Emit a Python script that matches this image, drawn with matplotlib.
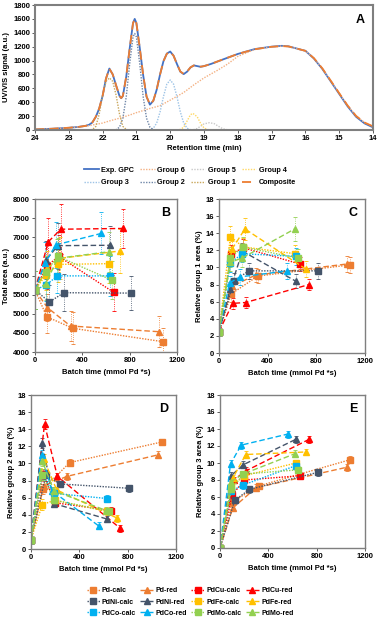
import matplotlib
matplotlib.use("Agg")
import matplotlib.pyplot as plt

plt.rcParams["font.family"] = ["Liberation Sans", "DejaVu Sans"]
plt.rcParams["font.weight"] = "bold"
plt.rcParams["axes.labelweight"] = "bold"

# ---------------- panel A: GPC trace and deconvolved groups ----------------
gpc_t = [24.0, 23.5, 23.0, 22.7, 22.5, 22.4, 22.3, 22.2, 22.1, 22.0, 21.9, 21.8,
         21.7, 21.6, 21.5, 21.45, 21.4, 21.3, 21.2, 21.1, 21.05, 21.0, 20.9, 20.8,
         20.7, 20.6, 20.5, 20.4, 20.3, 20.2, 20.1, 20.0, 19.9, 19.8, 19.7, 19.6,
         19.5, 19.4, 19.3, 19.2, 19.1, 19.0, 18.8, 18.5, 18.0, 17.5, 17.0, 16.7,
         16.5, 16.0, 15.75, 15.5, 15.25, 15.0, 14.75, 14.5, 14.25, 14.0]
gpc_exp = [8, 18, 32, 45, 60, 75, 110, 190, 310, 490, 740, 885,
           800, 640, 490, 458, 490, 770, 1170, 1540, 1600, 1540, 1180, 790,
           480, 365, 420, 580, 800, 990, 1100, 1130, 1070, 950, 840, 805,
           840, 900, 930, 920, 910, 920, 950, 1005, 1095, 1165, 1200, 1212,
           1205, 1140, 1030, 880, 700, 520, 340, 190, 95, 38]
gpc_comp = [8, 18, 32, 45, 60, 75, 112, 192, 312, 492, 742, 883,
            800, 642, 492, 460, 492, 772, 1170, 1538, 1598, 1538, 1180, 792,
            482, 368, 422, 582, 800, 990, 1098, 1128, 1068, 950, 842, 808,
            842, 902, 930, 920, 912, 920, 950, 1005, 1095, 1163, 1198, 1208,
            1203, 1140, 1035, 888, 710, 530, 352, 202, 108, 52]

g6_t = [24.0, 23.5, 23.0, 22.5, 22.4, 22.0, 21.8, 21.5, 21.2, 21.0, 20.6, 20.3,
        20.0, 19.6, 19.3, 19.0, 18.6, 18.3, 18.0, 17.5, 17.0, 16.7, 16.5, 16.0,
        15.75, 15.5, 15.25, 15.0, 14.75, 14.5, 14.25, 14.0]
g6_val = [8, 18, 32, 55, 62, 100, 130, 170, 215, 250, 310, 350,
          430, 540, 650, 750, 860, 950, 1060, 1160, 1198, 1208, 1203, 1140,
          1035, 888, 710, 530, 352, 202, 108, 52]

g1_t = [24.0, 22.4, 22.3, 22.2, 22.1, 22.0, 21.9, 21.8, 21.7, 21.6, 21.5, 21.4, 21.3, 21.2, 14.0]
g1_val = [0, 0, 7, 52, 230, 500, 700, 750, 700, 500, 230, 52, 7, 0, 0]
g2_t = [24.0, 21.7, 21.6, 21.5, 21.4, 21.3, 21.2, 21.1, 21.05, 21.0, 20.9, 20.8, 20.7, 20.6, 20.5, 20.4, 14.0]
g2_val = [0, 0, 5, 40, 170, 480, 950, 1340, 1390, 1340, 950, 480, 170, 40, 5, 0, 0]
g3_t = [24.0, 20.7, 20.6, 20.5, 20.4, 20.3, 20.2, 20.1, 20.0, 19.9, 19.8, 19.7, 19.6, 19.5, 19.4, 19.3, 14.0]
g3_val = [0, 0, 4, 25, 100, 260, 480, 660, 720, 660, 480, 260, 100, 25, 4, 0, 0]
g4_t = [24.0, 19.8, 19.7, 19.6, 19.5, 19.4, 19.33, 19.2, 19.1, 19.0, 18.9, 14.0]
g4_val = [0, 0, 8, 40, 130, 220, 240, 190, 95, 30, 5, 0]
g5_t = [24.0, 19.4, 19.3, 19.2, 19.1, 19.0, 18.84, 18.7, 18.6, 18.5, 18.4, 18.3, 14.0]
g5_val = [0, 0, 6, 22, 55, 88, 105, 92, 62, 32, 12, 3, 0]

# ---------------- panels B-E: batch experiments ----------------
series = ["Pd-calc", "Pd-red", "PdCu-calc", "PdCu-red", "PdNi-calc", "PdNi-red",
          "PdFe-calc", "PdFe-red", "PdCo-calc", "PdCo-red", "PdMo-calc", "PdMo-red"]

batch_time = {
    "Pd-calc": [0, 100, 320, 1080], "Pd-red": [0, 105, 300, 1050],
    "PdCu-calc": [0, 100, 200, 665], "PdCu-red": [0, 112, 218, 740],
    "PdNi-calc": [0, 122, 244, 810], "PdNi-red": [0, 92, 193, 630],
    "PdFe-calc": [0, 94, 198, 628], "PdFe-red": [0, 105, 213, 715],
    "PdCo-calc": [0, 93, 190, 630], "PdCo-red": [0, 87, 175, 560],
    "PdMo-calc": [0, 93, 194, 648], "PdMo-red": [0, 92, 190, 622],
}

total_area = {
    "Pd-calc": [5620, 4920, 4620, 4270], "Pd-red": [5620, 5160, 4680, 4530],
    "PdCu-calc": [5620, 6250, 6500, 5560], "PdCu-red": [5620, 6880, 7210, 7230],
    "PdNi-calc": [5620, 5310, 5550, 5540], "PdNi-red": [5620, 6400, 6780, 6790],
    "PdFe-calc": [5620, 6020, 6290, 6310], "PdFe-red": [5620, 6200, 6450, 6640],
    "PdCo-calc": [5620, 5750, 5990, 5990], "PdCo-red": [5620, 6330, 6800, 7100],
    "PdMo-calc": [5620, 6100, 6500, 5880], "PdMo-red": [5620, 5780, 6450, 6620],
}
total_err = {
    "Pd-calc": [500, 420, 420, 350], "Pd-red": [500, 350, 400, 400],
    "PdCu-calc": [500, 600, 550, 500], "PdCu-red": [500, 620, 650, 500],
    "PdNi-calc": [500, 450, 480, 450], "PdNi-red": [500, 500, 600, 500],
    "PdFe-calc": [500, 400, 450, 500], "PdFe-red": [500, 450, 550, 580],
    "PdCo-calc": [500, 420, 450, 520], "PdCo-red": [500, 550, 600, 550],
    "PdMo-calc": [500, 400, 480, 500], "PdMo-red": [500, 420, 500, 520],
}

group1 = {
    "Pd-calc": [2.5, 6.9, 9.0, 10.3], "Pd-red": [2.5, 7.8, 9.1, 10.4],
    "PdCu-calc": [2.5, 11.6, 12.3, 10.4], "PdCu-red": [2.5, 5.8, 5.9, 8.0],
    "PdNi-calc": [2.5, 8.4, 9.6, 9.6], "PdNi-red": [2.5, 7.5, 11.9, 8.4],
    "PdFe-calc": [2.5, 13.6, 12.4, 11.6], "PdFe-red": [2.5, 12.1, 14.5, 9.8],
    "PdCo-calc": [2.5, 10.5, 11.6, 11.3], "PdCo-red": [2.5, 8.2, 8.9, 9.6],
    "PdMo-calc": [2.5, 11.1, 12.4, 11.1], "PdMo-red": [2.5, 10.6, 11.1, 14.5],
}
group1_err = {
    "Pd-calc": [0.3, 0.9, 0.8, 0.9], "Pd-red": [0.3, 0.9, 0.8, 0.9],
    "PdCu-calc": [0.3, 1.0, 1.0, 0.8], "PdCu-red": [0.3, 0.6, 0.6, 0.6],
    "PdNi-calc": [0.3, 0.9, 0.9, 0.9], "PdNi-red": [0.3, 0.8, 1.0, 0.8],
    "PdFe-calc": [0.3, 1.2, 1.0, 1.0], "PdFe-red": [0.3, 1.0, 1.3, 0.9],
    "PdCo-calc": [0.3, 1.0, 1.0, 1.0], "PdCo-red": [0.3, 0.8, 0.9, 0.9],
    "PdMo-calc": [0.3, 1.0, 1.2, 1.0], "PdMo-red": [0.3, 1.0, 1.0, 1.4],
}

group2 = {
    "Pd-calc": [1.1, 7.0, 10.1, 12.5], "Pd-red": [1.1, 7.4, 8.5, 11.0],
    "PdCu-calc": [1.1, 8.8, 5.4, 4.5], "PdCu-red": [1.1, 14.6, 8.5, 2.4],
    "PdNi-calc": [1.1, 8.6, 7.6, 7.1], "PdNi-red": [1.1, 12.4, 5.3, 3.5],
    "PdFe-calc": [1.1, 5.2, 5.7, 4.4], "PdFe-red": [1.1, 10.5, 6.9, 3.6],
    "PdCo-calc": [1.1, 8.7, 6.5, 5.9], "PdCo-red": [1.1, 11.0, 6.8, 2.7],
    "PdMo-calc": [1.1, 8.7, 5.7, 4.4], "PdMo-red": [1.1, 10.3, 6.8, 4.5],
}
group2_err = {s: [0.2, 0.6, 0.4, 0.4] for s in series}

group3 = {
    "Pd-calc": [0, 5.4, 7.3, 10.4], "Pd-red": [0, 4.7, 7.1, 9.5],
    "PdCu-calc": [0, 6.2, 8.0, 8.5], "PdCu-red": [0, 8.0, 9.1, 12.8],
    "PdNi-calc": [0, 5.6, 6.9, 8.9], "PdNi-red": [0, 8.5, 9.8, 12.8],
    "PdFe-calc": [0, 7.2, 8.5, 10.0], "PdFe-red": [0, 8.2, 11.0, 11.3],
    "PdCo-calc": [0, 6.7, 7.4, 9.7], "PdCo-red": [0, 9.9, 12.1, 13.4],
    "PdMo-calc": [0, 6.9, 8.7, 9.2], "PdMo-red": [0, 7.8, 8.7, 11.1],
}
group3_err = {s: [0.1, 0.4, 0.4, 0.4] for s in series}

system_colors = {"Pd": "#ED7D31", "PdCu": "#FF0000", "PdNi": "#44546A",
                 "PdFe": "#FFC000", "PdCo": "#00B0F0", "PdMo": "#92D050"}

FS = 5.5
SPINE = "#7f7f7f"
DOT = (0, (1, 1))


def style_axes(ax):
    for sp in ax.spines.values():
        sp.set_color(SPINE)
        sp.set_linewidth(1.0)
    ax.tick_params(labelsize=FS, length=2, width=0.6, color="#404040", pad=1.5)
    for lab in ax.get_xticklabels() + ax.get_yticklabels():
        lab.set_fontweight("bold")


fig = plt.figure(figsize=(3.79, 6.19), dpi=100)
W, H = 379, 619


def add_axes(left, right, top, bottom):
    return fig.add_axes([left / W, 1 - bottom / H, (right - left) / W, (bottom - top) / H])


# panel A
axA = add_axes(35, 373, 5, 130)
hA = {}
hA["Exp. GPC"], = axA.plot(gpc_t, gpc_exp, color="#4472C4", lw=1.3)
hA["Group 6"], = axA.plot(g6_t, g6_val, color="#F4B183", lw=1.0, ls=DOT)
hA["Group 5"], = axA.plot(g5_t, g5_val, color="#C9C9C9", lw=1.0, ls=DOT)
hA["Group 4"], = axA.plot(g4_t, g4_val, color="#FFD966", lw=1.0, ls=DOT)
hA["Group 3"], = axA.plot(g3_t, g3_val, color="#9DC3E6", lw=1.0, ls=DOT)
hA["Group 2"], = axA.plot(g2_t, g2_val, color="#6F86A8", lw=1.0, ls=DOT)
hA["Group 1"], = axA.plot(g1_t, g1_val, color="#C9A65A", lw=1.0, ls=DOT)
hA["Composite"], = axA.plot(gpc_t, gpc_comp, color="#ED7D31", lw=1.3, ls=(0, (5, 3)))
axA.set_xlim(24, 14)
axA.set_ylim(0, 1800)
axA.set_xticks(range(14, 25))
axA.set_yticks(range(0, 1801, 200))
axA.set_xlabel("Retention time (min)", fontsize=FS, labelpad=2)
axA.set_ylabel("UV/VIS signal (a.u.)", fontsize=FS, labelpad=2)
axA.text(0.975, 0.93, "A", transform=axA.transAxes, ha="right", va="top",
         fontsize=9, fontweight="bold")
style_axes(axA)
for sp in axA.spines.values():
    sp.set_linewidth(1.5)

orderA = ["Exp. GPC", "Group 3", "Group 6", "Group 2", "Group 5", "Group 1",
          "Group 4", "Composite"]
fig.legend([hA[k] for k in orderA], orderA, loc="center", ncol=4,
           bbox_to_anchor=(190 / W, 1 - 176.5 / H), frameon=False,
           prop={"size": 5.2, "weight": "bold"}, handlelength=2.0,
           handletextpad=0.3, columnspacing=0.9, labelspacing=0.75)

panels = [
    (add_axes(35, 177, 199, 352), total_area, total_err, (4000, 8000), 500,
     "Total area (a.u.)", "B"),
    (add_axes(219, 365, 199, 353), group1, group1_err, (0, 18), 2,
     "Relative group 1 area (%)", "C"),
    (add_axes(31, 176, 395, 549), group2, group2_err, (0, 18), 2,
     "Relative group 2 area (%)", "D"),
    (add_axes(220, 365, 395, 548), group3, group3_err, (0, 18), 2,
     "Relative group 3 area (%)", "E"),
]

legend_lines = {}
for ax, vals, errs, ylim, ystep, ylabel, tag in panels:
    for s in series:
        system, kind = s.split("-")
        c = system_colors[system]
        calc = kind == "calc"
        eb = ax.errorbar(batch_time[s], vals[s], yerr=errs[s], color=c,
                         ls=DOT if calc else (0, (4, 2)),
                         marker="s" if calc else "^", ms=5 if calc else 4.2,
                         lw=1.0, elinewidth=0.6, capsize=1.5, capthick=0.6)
        for bar in eb[2]:
            bar.set_linestyle(":")
        legend_lines[s] = eb[0]
    ax.set_xlim(0, 1200)
    ax.set_ylim(*ylim)
    ax.set_xticks([0, 400, 800, 1200])
    ax.set_yticks(range(ylim[0], ylim[1] + 1, ystep))
    ax.set_xlabel("Batch time (mmol Pd *s)", fontsize=FS, labelpad=4)
    ax.set_ylabel(ylabel, fontsize=FS, labelpad=2)
    ax.text(0.95, 0.95, tag, transform=ax.transAxes, ha="right", va="top",
            fontsize=9, fontweight="bold")
    style_axes(ax)

order = ["Pd-calc", "PdNi-calc", "PdCo-calc", "Pd-red", "PdNi-red", "PdCo-red",
         "PdCu-calc", "PdFe-calc", "PdMo-calc", "PdCu-red", "PdFe-red", "PdMo-red"]
fig.legend([legend_lines[k] for k in order], order, loc="center", ncol=4,
           bbox_to_anchor=(190 / W, 1 - 602 / H), frameon=False,
           prop={"size": 5.0, "weight": "bold"}, handlelength=1.9, numpoints=1,
           handletextpad=0.3, columnspacing=0.6, labelspacing=0.6)

fig.savefig("out.png", dpi=100)
